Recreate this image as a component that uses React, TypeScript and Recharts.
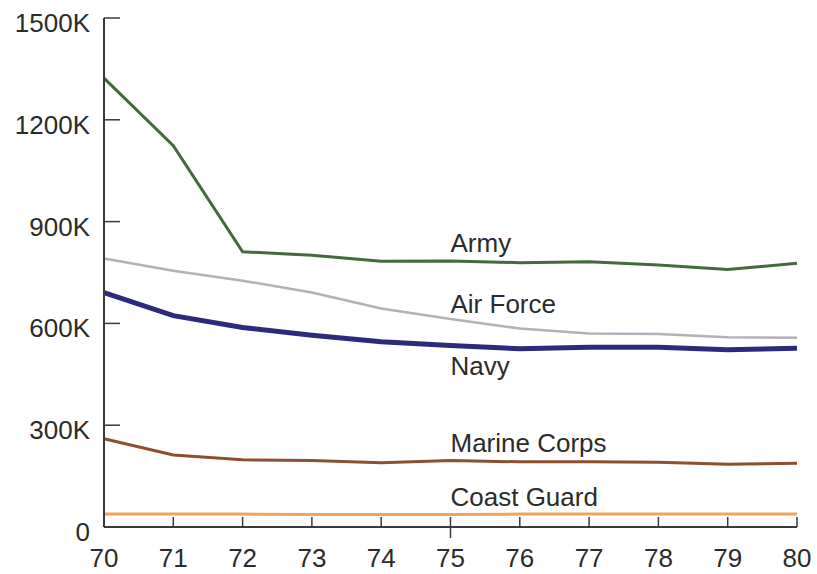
import React from "react";
import { LineChart, Line, XAxis, YAxis, ReferenceDot } from "recharts";

const years = [70, 71, 72, 73, 74, 75, 76, 77, 78, 79, 80];
const army = [1323, 1124, 811, 801, 783, 784, 779, 782, 772, 759, 777];
const airForce = [791, 755, 726, 691, 644, 613, 585, 570, 569, 559, 558];
const navy = [691, 623, 588, 565, 546, 535, 525, 530, 530, 522, 527];
const marineCorps = [260, 212, 198, 196, 189, 196, 192, 192, 191, 185, 188];
const coastGuard = [38, 38, 38, 37, 37, 37, 38, 38, 38, 38, 38];

const yTicks = [0, 300, 600, 900, 1200, 1500];
const xTicks = years;

const seriesLabels = ["Army", "Air Force", "Navy", "Marine Corps", "Coast Guard"];
const labelX = 75;
const labelY = [810, 631, 448, 221, 62];

const colors = ["#44693c", "#b6aeba", "#2c2a7c", "#8c4f30", "#f3a45c"];
const widths = [3, 2.5, 5, 3, 3];
const keys = ["army", "airForce", "navy", "marineCorps", "coastGuard"];

const data = years.map((y, i) => ({
  year: y,
  army: army[i],
  airForce: airForce[i],
  navy: navy[i],
  marineCorps: marineCorps[i],
  coastGuard: coastGuard[i],
}));

const FONT = "'Liberation Sans', Arial, sans-serif";
const TEXT = "#2b2b2b";
const AXIS = "#3a3a3a";

const X_TICK_MARGIN = 22;
const Y_TICK_MARGIN = 14;

const XTick = (props: any) => {
  const { x, y, payload } = props;
  const axisY = y - X_TICK_MARGIN;
  return (
    <g>
      <line
        x1={x}
        x2={x}
        y1={axisY - 10}
        y2={payload.value === 75 ? axisY + 11 : axisY}
        stroke={AXIS}
        strokeWidth={1.5}
      />
      <text x={x} y={y} dy="0.71em" textAnchor="middle" fill={TEXT} fontSize={26} fontFamily={FONT}>
        {payload.value}
      </text>
    </g>
  );
};

const YTick = (props: any) => {
  const { x, y, payload } = props;
  const axisX = x + Y_TICK_MARGIN;
  return (
    <g>
      <line x1={axisX} x2={axisX + 16} y1={y} y2={y} stroke={AXIS} strokeWidth={1.5} />
      <text x={x} y={y} dy={14} textAnchor="end" fill={TEXT} fontSize={26} fontFamily={FONT}>
        {payload.value === 0 ? "0" : `${payload.value}K`}
      </text>
    </g>
  );
};

const makeLabel = (text: string) => (p: any) => {
  const vb = p.viewBox || {};
  return (
    <text x={vb.x} y={vb.y} textAnchor="start" fill={TEXT} fontSize={26} fontFamily={FONT}>
      {text}
    </text>
  );
};

export default function App() {
  return (
    <div style={{ position: "absolute", left: 0, top: 0, background: "#fff" }}>
      <LineChart
        width={817}
        height={574}
        data={data}
        margin={{ top: 18, right: 20, bottom: 0, left: 14 }}
      >
        <XAxis
          dataKey="year"
          type="number"
          domain={[70, 80]}
          ticks={xTicks}
          interval={0}
          height={47}
          tickSize={0}
          tickMargin={X_TICK_MARGIN}
          tick={<XTick />}
          axisLine={{ stroke: AXIS, strokeWidth: 2 }}
          tickLine={false}
        />
        <YAxis
          type="number"
          domain={[0, 1500]}
          ticks={yTicks}
          interval={0}
          width={90}
          tickSize={0}
          tickMargin={Y_TICK_MARGIN}
          tick={<YTick />}
          axisLine={{ stroke: AXIS, strokeWidth: 2 }}
          tickLine={false}
        />
        {keys.map((k, i) => (
          <Line
            key={k}
            dataKey={k}
            type="linear"
            stroke={colors[i]}
            strokeWidth={widths[i]}
            dot={false}
            activeDot={false}
            isAnimationActive={false}
          />
        ))}
        {seriesLabels.map((s, i) => (
          <ReferenceDot
            key={s}
            x={labelX}
            y={labelY[i]}
            r={0}
            fill="none"
            stroke="none"
            label={makeLabel(s)}
          />
        ))}
      </LineChart>
    </div>
  );
}
